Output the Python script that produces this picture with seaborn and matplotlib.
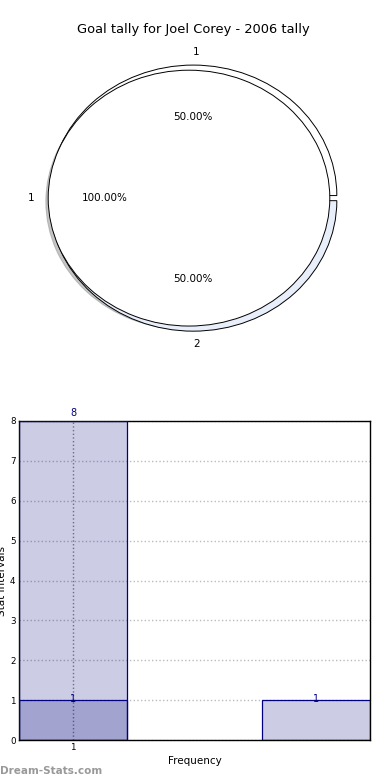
import numpy as np
import matplotlib
matplotlib.use('Agg')
import matplotlib.pyplot as plt
import seaborn as sns

# pie data
inner_labels = ['1', '2']
inner_values = [1, 1]
inner_colors = ['#ffffff', '#e8eefa']
outer_labels = ['1']
outer_values = [1]
outer_colors = ['#ffffff']

# bar data
tall_pos = [1]
tall_vals = [8]
short_pos = [1, 2.8]
short_vals = [1, 1]
yticks = list(range(0, 9))

sns.set_style('white')
plt.rcParams['font.family'] = ['DejaVu Sans']
plt.rcParams['text.color'] = 'black'
plt.rcParams['axes.labelcolor'] = 'black'
plt.rcParams['xtick.color'] = 'black'
plt.rcParams['ytick.color'] = 'black'

fig = plt.figure(figsize=(3.9, 7.8), dpi=100)

# top: pie chart
ax1 = fig.add_axes([0.0333, 0.541, 0.9026, 0.410])
ax1.pie(inner_values, labels=inner_labels, colors=inner_colors, autopct='%.2f%%',
        explode=[0.02, 0.02], radius=1.02, center=(0.03, 0), shadow=False,
        labeldistance=1.1, pctdistance=0.6, textprops={'fontsize': 7.5},
        wedgeprops={'edgecolor': 'black', 'linewidth': 0.7})
ax1.pie(outer_values, labels=outer_labels, colors=outer_colors, autopct='%.2f%%',
        shadow={'ox': -0.012, 'oy': -0.02, 'shade': 0.45},
        labeldistance=1.1, pctdistance=0.6, textprops={'fontsize': 7.5},
        wedgeprops={'edgecolor': 'black', 'linewidth': 0.7})
ax1.set_aspect('auto')
ax1.set_xlim(-1.25, 1.25)
ax1.set_ylim(-1.25, 1.25)
ax1.axis('off')
fig.text(0.497, 1 - 30 / 780, 'Goal tally for Joel Corey - 2006 tally',
         ha='center', va='center', fontsize=9.4)

# bottom: bar chart
ax2 = fig.add_axes([19 / 390, 40 / 780, 351 / 390, 319 / 780])
ax2.bar(tall_pos, tall_vals, width=0.8, color='navy', alpha=0.2, zorder=2)
ax2.bar(tall_pos, tall_vals, width=0.8, fill=False, edgecolor='navy', linewidth=0.9, zorder=3)
ax2.bar(short_pos, short_vals, width=0.8, color='navy', alpha=0.2, zorder=2)
ax2.bar(short_pos, short_vals, width=0.8, fill=False, edgecolor='navy', linewidth=0.9, zorder=3)

for x, v in zip(tall_pos, tall_vals):
    ax2.annotate(str(v), (x, v), xytext=(0, 2), textcoords='offset points',
                 ha='center', va='bottom', color='navy', fontsize=7)
for x, v in zip(short_pos, short_vals):
    ax2.annotate(str(v), (x, v), xytext=(0, 1), textcoords='offset points',
                 ha='center', va='center', color='navy', fontsize=7)

ax2.set_xlim(0.6, 3.2)
ax2.set_ylim(0, 8)
ax2.set_yticks(yticks)
ax2.set_xticks(tall_pos)
ax2.set_xticklabels(['1'])
ax2.tick_params(axis='both', labelsize=6.3, length=2, color='#999999', pad=0.5)
ax2.grid(True, axis='y', linestyle=':', color='#bbbbbb', linewidth=1, zorder=1)
ax2.grid(True, axis='x', linestyle=':', color='#888888', linewidth=1, zorder=4)
for s in ax2.spines.values():
    s.set_color('black')
    s.set_linewidth(1)
ax2.set_xlabel('Frequency', fontsize=7.5)
ax2.set_ylabel('Stat Intervals', fontsize=7.5)
ax2.xaxis.set_label_coords(0.5, -0.05)
ax2.yaxis.set_label_coords(-0.033, 0.5)

fig.text(0.0, 1 - 771 / 780, 'Dream-Stats.com', ha='left', va='center',
         fontsize=7.5, fontweight='bold', color='#999999')

fig.savefig('out.png', dpi=100)
